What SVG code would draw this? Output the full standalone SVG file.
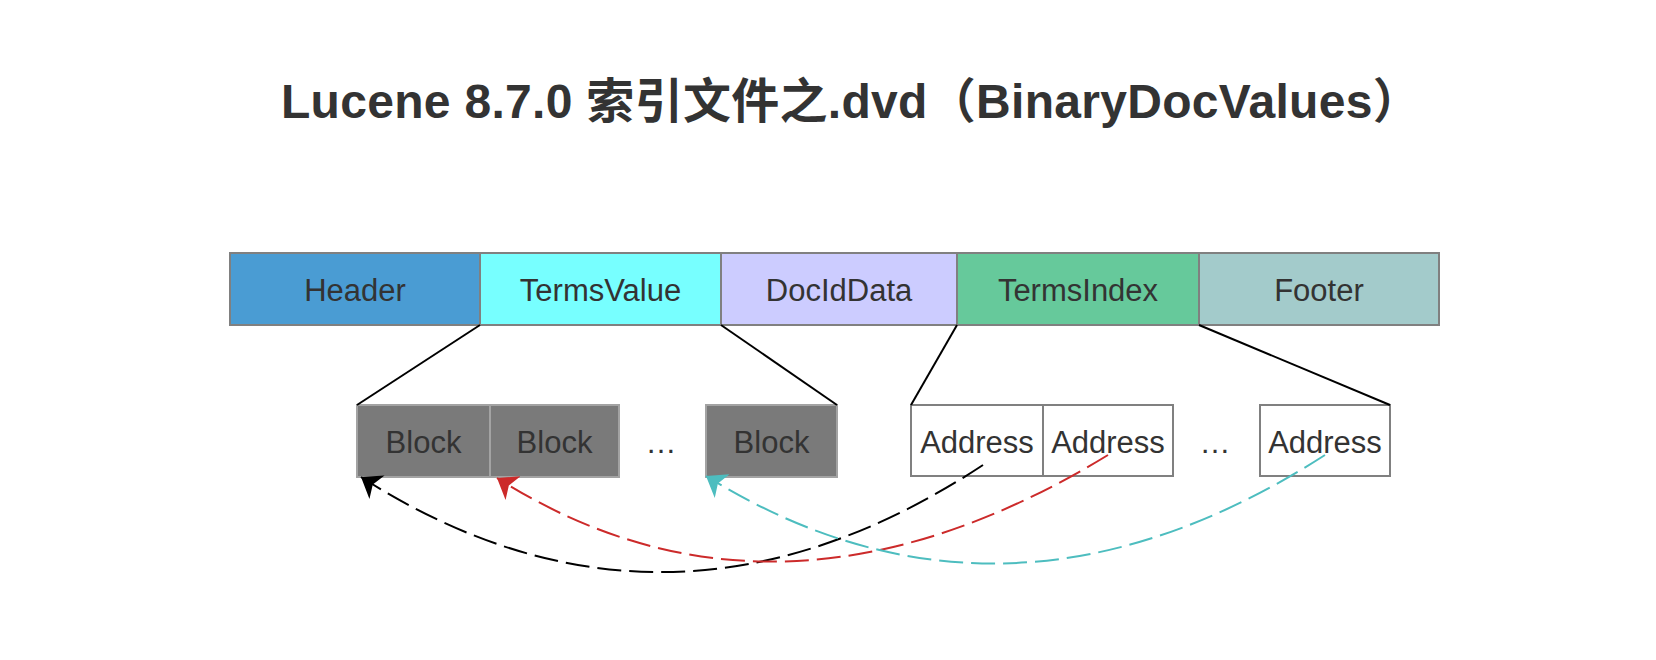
<svg xmlns="http://www.w3.org/2000/svg" width="1656" height="660" viewBox="0 0 1656 660">
<style>
  text { font-family: "Liberation Sans", Arial, "Noto Sans CJK SC", sans-serif; fill: #333333; }
  .title { font-size: 48px; font-weight: bold; letter-spacing: 0.3px; }
  .lbl { font-size: 31px; text-anchor: middle; }
  .cell { stroke: #808080; stroke-width: 2; }
  .block { fill: #7a7a7a; stroke: #a3a3a3; stroke-width: 2; }
  .addr { fill: #ffffff; stroke: #808080; stroke-width: 2; }
  .zoomline { stroke: #000000; stroke-width: 2; fill: none; }
  .ptr { fill: none; stroke-width: 2; stroke-dasharray: 24 8; }
</style>
<defs>
  <marker id="arrBlack" markerUnits="userSpaceOnUse" viewBox="0 -15 20 30" markerWidth="20" markerHeight="30" refX="19" refY="0" orient="auto">
    <path d="M19,0 L0,-14 L5,0 L0,14 Z" fill="#000000"/>
  </marker>
  <marker id="arrRed" markerUnits="userSpaceOnUse" viewBox="0 -15 20 30" markerWidth="20" markerHeight="30" refX="19" refY="0" orient="auto">
    <path d="M19,0 L0,-14 L5,0 L0,14 Z" fill="#cc2a2a"/>
  </marker>
  <marker id="arrCyan" markerUnits="userSpaceOnUse" viewBox="0 -15 20 30" markerWidth="20" markerHeight="30" refX="19" refY="0" orient="auto">
    <path d="M19,0 L0,-14 L5,0 L0,14 Z" fill="#4dbdbf"/>
  </marker>
</defs>
<rect x="0" y="0" width="1656" height="660" fill="#ffffff"/>
<text id="title" class="title" x="851" y="118" text-anchor="middle">Lucene 8.7.0 索引文件之.dvd（BinaryDocValues）</text>

<g id="header"><rect class="cell" x="230" y="253" width="250" height="72" fill="#4a9cd3"/><text class="lbl" x="355" y="301">Header</text></g>
<g id="termsvalue"><rect class="cell" x="480" y="253" width="241" height="72" fill="#77ffff"/><text class="lbl" x="600.5" y="301">TermsValue</text></g>
<g id="dociddata"><rect class="cell" x="721" y="253" width="236" height="72" fill="#ccccff"/><text class="lbl" x="839" y="301">DocIdData</text></g>
<g id="termsindex"><rect class="cell" x="957" y="253" width="242" height="72" fill="#66c99b"/><text class="lbl" x="1078" y="301">TermsIndex</text></g>
<g id="footer"><rect class="cell" x="1199" y="253" width="240" height="72" fill="#a3cbcb"/><text class="lbl" x="1319" y="301">Footer</text></g>

<g id="block1"><rect class="block" x="357" y="405" width="133" height="72"/><text class="lbl" x="423.5" y="453">Block</text></g>
<g id="block2"><rect class="block" x="490" y="405" width="129" height="72"/><text class="lbl" x="554.5" y="453">Block</text></g>
<g id="block-ellipsis"><text class="lbl" x="661" y="453">…</text></g>
<g id="block3"><rect class="block" x="706" y="405" width="131" height="72"/><text class="lbl" x="771.5" y="453">Block</text></g>

<g id="address1"><rect class="addr" x="911" y="405" width="132" height="71"/><text class="lbl" x="977" y="453">Address</text></g>
<g id="address2"><rect class="addr" x="1043" y="405" width="130" height="71"/><text class="lbl" x="1108" y="453">Address</text></g>
<g id="address-ellipsis"><text class="lbl" x="1215" y="453">…</text></g>
<g id="address3"><rect class="addr" x="1260" y="405" width="130" height="71"/><text class="lbl" x="1325" y="453">Address</text></g>

<g id="connectors">
  <line class="zoomline" x1="480" y1="325" x2="357" y2="405"/>
  <line class="zoomline" x1="721" y1="325" x2="837" y2="405"/>
  <line class="zoomline" x1="957" y1="325" x2="911" y2="405"/>
  <line class="zoomline" x1="1199" y1="325" x2="1390" y2="405"/>
  <path class="ptr" stroke="#000000" d="M983,465 Q667,673 361,477" marker-end="url(#arrBlack)"/>
  <path class="ptr" stroke="#cc2a2a" d="M1108,455 Q778,656 497,478" marker-end="url(#arrRed)"/>
  <path class="ptr" stroke="#4dbdbf" d="M1325,455 Q1004,661 706,476" marker-end="url(#arrCyan)"/>
</g>
</svg>
